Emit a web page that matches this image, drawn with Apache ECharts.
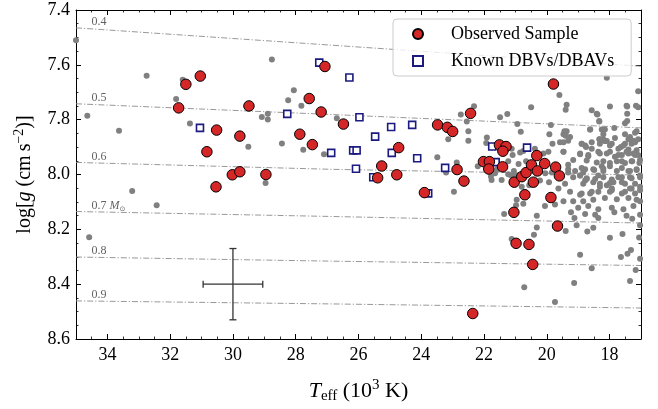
<!DOCTYPE html>
<html><head><meta charset="utf-8">
<script src="https://cdn.jsdelivr.net/npm/echarts@6/dist/echarts.min.js"></script>
<style>html,body{margin:0;padding:0;background:#fff}#c{width:658px;height:409px}</style>
</head><body><div id="c"></div>
<script>
// ---- tick labels ----
const xTickValues = [18, 20, 22, 24, 26, 28, 30, 32, 34];
const yTickValues = [7.4, 7.6, 7.8, 8.0, 8.2, 8.4, 8.6];

// ---- observed sample (Teff in 1e3 K, log g) ----
const observedSample = [
  [31.73,7.757],[31.50,7.671],[31.04,7.641],[30.83,7.917],[30.52,7.838],[30.54,8.045],
  [30.02,8.001],[29.78,7.990],[29.78,7.860],[29.49,7.750],[28.95,8.000],[27.87,7.853],
  [27.57,7.723],[27.47,7.891],[27.19,7.772],[27.07,7.606],
  [26.48,7.816],[24.72,7.902],[25.26,7.969],[25.39,8.012],[24.78,8.001],[23.90,8.066],
  [23.48,7.819],[23.17,7.828],[23.00,7.843],[22.43,7.777],[22.86,7.982],[22.64,8.024],
  [22.02,7.953],[21.83,7.953],[21.85,7.980],[21.51,7.892],[21.30,7.898],[21.40,7.915],
  [21.41,7.972],[21.04,8.028],[20.80,8.008],[20.66,7.993],[20.49,7.965],[20.43,8.028],
  [20.32,7.931],[20.30,7.987],[20.07,7.960],[19.72,7.973],[19.60,8.005],[19.79,7.670],
  [20.70,8.074],[19.87,8.084],[21.05,8.138],[19.66,8.188],[20.98,8.251],[20.57,8.255],
  [20.45,8.328],[22.36,8.507]
];

// ---- known DBVs / DBAVs ----
const knownDBV = [
  [31.05,7.830],[28.27,7.779],[27.25,7.592],[26.87,7.921],[26.29,7.646],[25.97,7.791],
  [26.17,7.912],[26.06,7.912],[26.08,7.979],[25.47,7.862],[24.96,7.827],[24.94,7.921],
  [24.29,7.819],[24.13,7.941],[25.53,8.010],[23.24,7.976],[21.74,7.898],[21.63,7.955],
  [20.63,7.902],[23.78,8.069]
];

// ---- background white dwarf sample ----
const background = [
  [35.0,7.51],[34.64,7.786],[33.63,7.84],[32.75,7.64],[31.81,7.725],[31.60,7.654],[31.37,7.814],
  [33.21,8.06],[29.51,7.899],[29.08,7.79],[28.89,7.778],[28.89,7.799],[28.96,8.031],[28.76,7.581],
  [28.44,7.887],[28.24,7.729],[28.06,7.693],[27.82,7.749],[27.76,7.910],[27.10,7.926],[34.58,8.229],
  [32.43,8.112],[26.69,7.795],
  [23.49,7.937],[23.21,7.993],[23.14,7.871],[22.96,8.063],[22.87,7.956],[22.74,7.781],[22.55,7.807],
  [22.50,7.842],[22.50,7.877],[22.32,7.751],[22.20,7.970],[21.91,7.865],[21.93,7.885],[21.78,8.007],
  [21.76,8.020],[21.65,7.995],[21.58,7.981],[21.49,7.791],[21.44,8.020],[21.36,8.144],[21.26,7.779],
  [21.23,7.952],[21.23,7.999],[21.14,8.004],[21.12,7.906],[21.12,8.235],[21.09,7.929],[21.05,7.987],
  [21.01,8.004],[20.98,8.112],[20.96,8.092],[20.94,7.816],[20.90,7.962],[20.85,7.920],[20.83,7.844],
  [20.80,8.045],[20.75,7.914],[20.75,8.107],[20.72,8.411],[20.70,8.065],[20.66,7.952],[20.56,8.039],
  [20.50,7.755],[20.41,8.220],[20.38,7.906],[20.32,8.150],[20.32,8.193],[20.22,8.022],[20.11,7.923],
  [20.06,8.115],[20.05,7.995],[19.95,7.917],[19.93,8.028],[19.92,7.853],[19.87,7.819],[19.84,7.993],
  [19.82,7.888],[19.74,8.109],[19.74,8.465],[19.63,8.051],[19.60,7.710],[19.58,7.882],[19.47,7.917],
  [19.47,8.098],[19.44,7.842],[19.40,7.859],[19.40,7.764],[19.40,8.206],[19.37,7.746],[19.32,7.964],
  [19.32,7.993],[19.26,7.863],[19.26,8.063],[19.23,8.138],[19.16,7.947],[19.16,8.098],[19.13,8.396],
  [19.12,8.159],[19.05,8.185],[19.00,8.121],[18.94,7.926],[18.94,8.004],[18.94,8.074],[18.94,8.293],
  [18.89,7.888],[18.84,8.098],[18.78,7.981],[18.78,8.022],[18.78,8.144],[18.75,7.900],[18.73,7.949],
  [18.73,8.014],[18.71,8.208],[18.68,7.933],[18.68,8.115],[18.62,7.836],[18.62,8.069],[18.57,7.766],
  [18.57,7.906],[18.57,8.342],[18.52,8.092],[18.52,8.194],[18.49,7.984],[18.46,8.016],[18.46,8.147],
  [18.41,7.778],[18.41,7.956],[18.39,7.781],[18.36,7.917],[18.36,8.063],[18.36,8.127],[18.36,8.159],
  [18.33,7.805],[18.33,7.871],[18.31,7.888],[18.31,8.034],[18.20,7.871],[18.20,7.979],[18.20,8.010],
  [18.15,7.836],[18.15,7.878],[18.15,8.086],[18.09,7.647],[18.09,7.878],[18.09,7.923],[17.99,7.752],
  [17.99,7.894],[17.99,7.970],[17.99,8.031],[17.99,8.231],[17.93,8.018],[17.93,8.057],[17.93,8.121],
  [17.85,7.830],[17.85,8.138],[17.83,7.867],[17.77,7.952],[17.77,7.987],[17.77,8.090],[17.72,7.929],
  [17.64,7.900],[17.64,8.301],[17.61,8.010],[17.61,8.028],[17.59,8.217],[17.56,8.127],[17.51,7.853],
  [17.51,7.888],[17.51,7.958],[17.51,8.063],[17.46,7.749],[17.46,8.150],[17.44,7.752],[17.44,7.778],
  [17.44,7.805],[17.43,8.289],[17.40,7.909],[17.40,7.923],[17.40,8.086],[17.35,7.863],[17.35,7.987],
  [17.35,8.388],[17.32,8.275],[17.30,8.014],[17.30,8.051],[17.28,7.952],[17.28,8.161],[17.24,7.877],
  [17.24,8.115],[17.19,7.848],[17.19,7.929],[17.19,8.034],[17.17,8.348],[17.16,7.749],[17.14,7.912],
  [17.14,7.984],[17.14,8.092],[17.09,7.696],[17.09,7.755],[17.06,8.230],[17.05,7.958],[17.03,8.010],
  [17.03,8.057],[17.03,8.147],[17.03,8.185],[17.03,8.307],[17.03,8.098],
  [18.33,7.807],[17.51,7.813],[18.62,7.836],[18.25,7.836],[18.20,7.853],[19.47,7.853],[19.37,7.842],
  [17.14,7.842],[18.89,7.888],[18.78,7.894],[18.57,7.882],[18.31,7.871],[18.15,7.877],[17.93,7.888],
  [17.72,7.906],[17.56,7.894],[17.40,7.871],[17.30,7.888],[17.19,7.882],[17.09,7.871],[19.47,7.882],
  [19.32,7.877],[19.47,7.917],[18.94,7.923],[18.68,7.929],[18.31,7.923],[17.99,7.917],[17.83,7.935],
  [17.61,7.929],[17.46,7.917],[17.24,7.923],[17.09,7.929],[18.20,7.952],[17.99,7.958],[17.61,7.952],
  [17.30,7.952],[17.03,7.947],[19.32,7.981],[19.10,7.987],[18.89,7.976],[18.84,7.993],[18.52,7.981],
  [18.25,7.970],[18.20,7.987],[17.61,7.976],[17.40,7.987],[17.14,7.981],[19.16,8.010],[18.94,8.004],
  [18.73,8.016],[18.36,8.004],[17.72,8.010],[17.35,8.010],[17.03,8.004],[19.42,8.034],[18.84,8.034],
  [18.52,8.028],[18.31,8.045],[18.09,8.039],[17.93,8.051],[17.88,8.028],[17.51,8.034],[17.35,8.051],
  [17.03,8.045],[18.89,8.069],[18.57,8.063],[17.99,8.063],[17.61,8.069],[17.19,8.069]
];

// ---- constant-mass tracks (Teff, log g) ----
const massLabels = ['0.4', '0.5', '0.6', '0.7', '0.8', '0.9'];
const track04 = [[35, 7.465], [26.9, 7.528], [17, 7.605]];
const track05 = [[35, 7.742], [26.9, 7.781], [17, 7.830]];
const track06 = [[35, 7.956], [26.9, 7.981], [17, 8.002]];
const track07 = [[35, 8.135], [26.9, 8.153], [17, 8.177]];
const track08 = [[35, 8.301], [26.9, 8.316], [17, 8.332]];
const track09 = [[35, 8.461], [26.9, 8.472], [17, 8.487]];
const tracks = [track04, track05, track06, track07, track08, track09];

// ---- typical error bar ----
const errPoint = [30, 8.4];
const errTeff = 0.95;
const errLogg = 0.13;

const SERIF = '"Liberation Serif", "DejaVu Serif", serif';
const chart = echarts.init(document.getElementById('c'), null, {renderer: 'canvas'});

function xAxisCfg(pos, major, withLabels) {
  return {
    type: 'value', position: pos, min: 17, max: 35, inverse: true, interval: 0.5,
    axisLine: {show: major ? false : true, onZero: false, lineStyle: {color: '#000', width: 1}},
    axisTick: major ? {show: true, inside: true, length: 5, customValues: xTickValues, lineStyle: {color: '#000', width: 1}}
                    : {show: true, inside: true, length: 2.5, lineStyle: {color: '#000', width: 0.8}},
    axisLabel: withLabels ? {show: true, customValues: xTickValues, margin: 7, fontFamily: SERIF, fontSize: 18, color: '#000'} : {show: false},
    splitLine: {show: false},
    name: withLabels ? '{it|T}{sub|eff} (10{sup|3} K)' : '',
    nameLocation: 'middle', nameGap: 39,
    nameTextStyle: {
      fontFamily: SERIF, fontSize: 22, color: '#000', lineHeight: 26,
      rich: {
        it: {fontFamily: SERIF, fontStyle: 'italic', fontSize: 22, color: '#000', lineHeight: 26},
        sub: {fontFamily: SERIF, fontSize: 15, color: '#000', verticalAlign: 'bottom', lineHeight: 24},
        sup: {fontFamily: SERIF, fontSize: 15, color: '#000', verticalAlign: 'top', lineHeight: 20}
      }
    }
  };
}
function yAxisCfg(pos, withLabels) {
  return {
    type: 'value', position: pos, min: 7.4, max: 8.6, inverse: true, interval: 0.2,
    axisLine: {show: true, onZero: false, lineStyle: {color: '#000', width: 1}},
    axisTick: {show: true, inside: true, length: 5, lineStyle: {color: '#000', width: 1}},
    minorTick: {show: true, splitNumber: 4, length: 2.5, lineStyle: {color: '#000', width: 0.8}},
    axisLabel: withLabels ? {show: true, margin: 6, fontFamily: SERIF, fontSize: 18, color: '#000',
      formatter: v => v.toFixed(1)} : {show: false},
    splitLine: {show: false}, minorSplitLine: {show: false},
    name: withLabels ? 'log[{it|g} (cm\u2009s{sup|\u22122})]' : '',
    nameLocation: 'middle', nameGap: 36, nameRotate: 90,
    nameTextStyle: {
      fontFamily: SERIF, fontSize: 20, color: '#000', lineHeight: 24,
      rich: {
        it: {fontFamily: SERIF, fontStyle: 'italic', fontSize: 20, color: '#000', lineHeight: 24},
        sup: {fontFamily: SERIF, fontSize: 14, color: '#000', verticalAlign: 'top', lineHeight: 18}
      }
    }
  };
}

const trackSeries = tracks.map((t, i) => ({
  type: 'line', name: 'track' + massLabels[i], data: t, xAxisIndex: 0, yAxisIndex: 0,
  showSymbol: false, symbol: 'none', silent: true, z: 1,
  lineStyle: {color: '#8c8c8c', width: 0.9, type: [6, 2, 1.2, 2]}
}));

const option = {
  animation: false,
  backgroundColor: '#fff',
  grid: {left: 76, right: 17, top: 10, bottom: 55, containLabel: false},
  xAxis: [xAxisCfg('bottom', false, false), xAxisCfg('bottom', true, true),
          xAxisCfg('top', false, false), xAxisCfg('top', true, false)],
  yAxis: [yAxisCfg('left', true), yAxisCfg('right', false)],
  legend: {
    data: ['Observed Sample', 'Known DBVs/DBAVs'],
    orient: 'vertical', left: 393, top: 19,
    itemWidth: 10, itemHeight: 10, itemGap: 9,
    padding: [6, 17, 6, 19],
    backgroundColor: 'rgba(255,255,255,0.8)', borderColor: '#cccccc', borderWidth: 1, borderRadius: 4,
    textStyle: {fontFamily: SERIF, fontSize: 18, color: '#000', padding: [0, 0, 0, 23]}
  },
  series: [
    ...trackSeries,
    {
      type: 'scatter', name: 'trackLabels', silent: true, z: 2, clip: false,
      symbolSize: 1, itemStyle: {color: 'rgba(0,0,0,0)'},
      data: tracks.map(t => t[0]),
      label: {
        show: true, position: 'right', distance: 0, offset: [15, -6],
        fontFamily: SERIF, fontSize: 12, color: '#3a3a3a',
        formatter: p => p.dataIndex === 3 ? massLabels[p.dataIndex] + ' {it|M}{sub|\u2299}' : massLabels[p.dataIndex],
        rich: {
          it: {fontFamily: SERIF, fontStyle: 'italic', fontSize: 12, color: '#3a3a3a'},
          sub: {fontFamily: '"DejaVu Sans", sans-serif', fontSize: 7, color: '#3a3a3a', verticalAlign: 'bottom', lineHeight: 15}
        }
      }
    },
    {
      type: 'scatter', name: 'background', data: background, z: 3,
      symbol: 'circle', symbolSize: 6, itemStyle: {color: '#808080', opacity: 1}
    },
    {
      type: 'custom', name: 'errorbar', z: 4, silent: true, data: [errPoint],
      renderItem: (params, api) => {
        const x0 = api.value(0), y0 = api.value(1);
        const a = api.coord([x0 + errTeff, y0]);
        const b = api.coord([x0 - errTeff, y0]);
        const c = api.coord([x0, y0 - errLogg]);
        const d = api.coord([x0, y0 + errLogg]);
        const cap = 3.5;
        const st = {stroke: '#333', lineWidth: 1.3};
        const L = (x1, y1, x2, y2) => ({type: 'line', shape: {x1, y1, x2, y2}, style: st});
        return {type: 'group', children: [
          L(a[0], a[1], b[0], b[1]), L(c[0], c[1], d[0], d[1]),
          L(a[0], a[1] - cap, a[0], a[1] + cap), L(b[0], b[1] - cap, b[0], b[1] + cap),
          L(c[0] - cap, c[1], c[0] + cap, c[1]), L(d[0] - cap, d[1], d[0] + cap, d[1])
        ]};
      }
    },
    {
      type: 'scatter', name: 'Known DBVs/DBAVs', data: knownDBV, z: 5,
      symbol: 'rect', symbolSize: 7,
      itemStyle: {color: '#ffffff', borderColor: '#1a1a80', borderWidth: 1.6, opacity: 1}
    },
    {
      type: 'scatter', name: 'Observed Sample', data: observedSample, z: 6,
      symbol: 'circle', symbolSize: 10.5,
      itemStyle: {color: '#d62728', borderColor: '#000', borderWidth: 1, opacity: 1}
    }
  ]
};
chart.setOption(option);
</script>
</body></html>
